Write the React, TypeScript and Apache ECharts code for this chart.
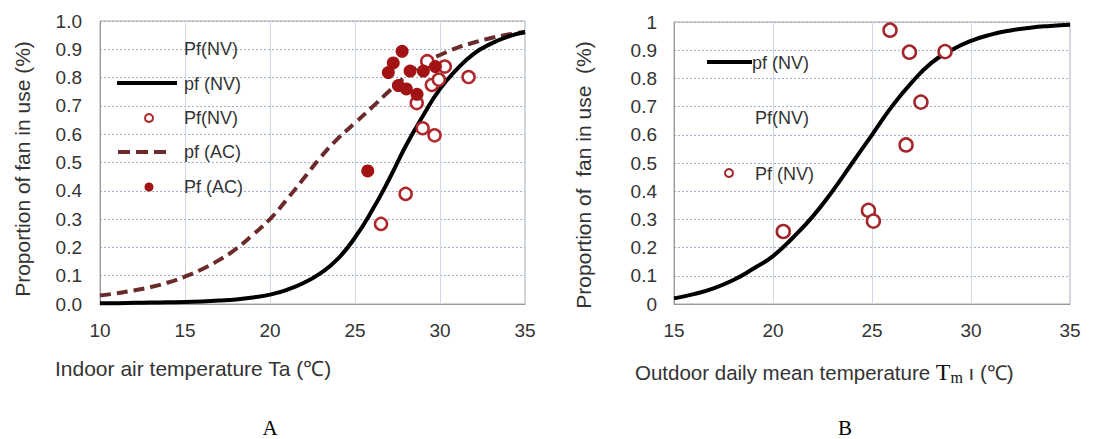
import React, { useEffect, useRef } from "react";
import * as echarts from "echarts";

// ---- Chart A (indoor air temperature) ----
const aCurveX = [10, 11, 12, 13, 14, 15, 16, 17, 18, 19, 20, 21, 22, 23, 24, 25, 26, 27, 28, 29, 30, 31, 32, 33, 34, 35];
const aCurveNV = [0.003, 0.003, 0.004, 0.005, 0.006, 0.007, 0.009, 0.012, 0.016, 0.023, 0.033, 0.05, 0.075, 0.11, 0.16, 0.235, 0.33, 0.44, 0.56, 0.665, 0.76, 0.83, 0.885, 0.92, 0.945, 0.96];
const aCurveAC = [0.03, 0.038, 0.048, 0.06, 0.076, 0.097, 0.123, 0.155, 0.195, 0.245, 0.3, 0.37, 0.445, 0.52, 0.585, 0.64, 0.695, 0.752, 0.805, 0.85, 0.88, 0.905, 0.924, 0.94, 0.952, 0.962];
const aObsNVx = [26.53, 27.98, 28.98, 29.68, 28.63, 29.52, 29.93, 29.25, 30.28, 31.68];
const aObsNVy = [0.283, 0.389, 0.621, 0.596, 0.71, 0.774, 0.793, 0.858, 0.839, 0.802];
const aObsACx = [25.75, 26.96, 27.25, 27.77, 28.24, 29.02, 29.73, 27.55, 28.02, 28.65];
const aObsACy = [0.47, 0.818, 0.852, 0.893, 0.823, 0.823, 0.839, 0.772, 0.76, 0.741];
const aXTicks = [10, 15, 20, 25, 30, 35];

// ---- Chart B (outdoor daily mean temperature) ----
const bCurveX = [15, 16, 17, 18, 19, 20, 21, 22, 23, 24, 25, 26, 27, 28, 29, 30, 31, 32, 33, 34, 35];
const bCurveNV = [0.02, 0.035, 0.055, 0.085, 0.125, 0.17, 0.235, 0.31, 0.4, 0.5, 0.6, 0.7, 0.785, 0.855, 0.9, 0.933, 0.955, 0.97, 0.98, 0.986, 0.99];
const bObsNVx = [25.91, 26.89, 28.69, 27.47, 26.72, 24.82, 25.07, 20.52];
const bObsNVy = [0.971, 0.893, 0.895, 0.716, 0.564, 0.332, 0.294, 0.257];
const bXTicks = [15, 20, 25, 30, 35];

const SANS = "'Liberation Sans', Arial, Helvetica, sans-serif";
const SERIF = "'Liberation Serif', 'Times New Roman', serif";
const TXT = "#333333";
const BLACK = "#000000";
const DASH = "#6b2b2b";
const FILLED = "#a31313";
const OPEN = "#b0262a";

const pairs = (xs: number[], ys: number[]) => xs.map((x, i) => [x, ys[i]]);

function legendText(x: number, y: number, text: string) {
  return {
    type: "text",
    x,
    y,
    style: { text, fill: TXT, font: `18px ${SANS}`, textAlign: "left", textVerticalAlign: "middle" },
    z: 100,
  };
}

export default function App() {
  const ref = useRef<HTMLDivElement>(null);
  useEffect(() => {
    if (!ref.current) return;
    const chart = echarts.init(ref.current, undefined, { renderer: "svg" });

    const xAxisCommon = {
      type: "value",
      interval: 5,
      axisLine: { show: true, lineStyle: { color: "#9a9a9a", width: 1 } },
      axisTick: { show: false },
      axisLabel: { color: TXT, fontSize: 19, fontFamily: SANS, margin: 17 },
      splitLine: { show: true, lineStyle: { color: "#cfd8e4", width: 1, type: "solid" } },
    };
    const yAxisCommon = {
      type: "value",
      min: 0,
      max: 1,
      interval: 0.1,
      axisLine: { show: true, lineStyle: { color: "#9a9a9a", width: 1 } },
      axisTick: { show: false },
      splitLine: { show: true, lineStyle: { color: "#9eb0c8", width: 1, type: [2, 2] } },
    };

    const option: any = {
      animation: false,
      backgroundColor: "#ffffff",
      grid: [
        { left: 100, top: 21, width: 425, height: 283, show: true, borderColor: "#a8a8a8", borderWidth: 1, containLabel: false },
        { left: 674, top: 22, width: 396, height: 282, show: true, borderColor: "#a8a8a8", borderWidth: 1, containLabel: false },
      ],
      xAxis: [
        { ...xAxisCommon, gridIndex: 0, min: aXTicks[0], max: aXTicks[aXTicks.length - 1] },
        { ...xAxisCommon, gridIndex: 1, min: bXTicks[0], max: bXTicks[bXTicks.length - 1] },
      ],
      yAxis: [
        {
          ...yAxisCommon,
          gridIndex: 0,
          axisLabel: { color: TXT, fontSize: 19, fontFamily: SANS, margin: 18, formatter: (v: number) => v.toFixed(1) },
        },
        {
          ...yAxisCommon,
          gridIndex: 1,
          axisLabel: { color: TXT, fontSize: 19, fontFamily: SANS, margin: 17, formatter: (v: number) => String(Math.round(v * 10) / 10) },
        },
      ],
      series: [
        {
          name: "pf (AC)",
          type: "line",
          xAxisIndex: 0,
          yAxisIndex: 0,
          data: pairs(aCurveX, aCurveAC),
          smooth: true,
          showSymbol: false,
          lineStyle: { color: DASH, width: 4, type: [11, 6] },
          z: 2,
        },
        {
          name: "pf (NV)",
          type: "line",
          xAxisIndex: 0,
          yAxisIndex: 0,
          data: pairs(aCurveX, aCurveNV),
          smooth: true,
          showSymbol: false,
          lineStyle: { color: BLACK, width: 4 },
          z: 3,
        },
        {
          name: "Pf(NV)",
          type: "scatter",
          xAxisIndex: 0,
          yAxisIndex: 0,
          data: pairs(aObsNVx, aObsNVy),
          symbol: "circle",
          symbolSize: 12,
          itemStyle: { color: "#ffffff", borderColor: OPEN, borderWidth: 2.5, opacity: 1 },
          z: 4,
        },
        {
          name: "Pf (AC)",
          type: "scatter",
          xAxisIndex: 0,
          yAxisIndex: 0,
          data: pairs(aObsACx, aObsACy),
          symbol: "circle",
          symbolSize: 13,
          itemStyle: { color: FILLED, opacity: 1 },
          z: 5,
        },
        {
          name: "pf (NV) B",
          type: "line",
          xAxisIndex: 1,
          yAxisIndex: 1,
          data: pairs(bCurveX, bCurveNV),
          smooth: true,
          showSymbol: false,
          lineStyle: { color: BLACK, width: 4 },
          z: 3,
        },
        {
          name: "Pf (NV) B",
          type: "scatter",
          xAxisIndex: 1,
          yAxisIndex: 1,
          data: pairs(bObsNVx, bObsNVy),
          symbol: "circle",
          symbolSize: 13,
          itemStyle: { color: "#ffffff", borderColor: "#a3262a", borderWidth: 2.5, opacity: 1 },
          z: 4,
        },
      ],
      graphic: [
        // Chart A legend
        legendText(184, 49, "Pf(NV)"),
        { type: "line", shape: { x1: 117, y1: 83, x2: 177, y2: 83 }, style: { stroke: BLACK, lineWidth: 4 }, z: 100 },
        legendText(184, 84, "pf (NV)"),
        { type: "circle", shape: { cx: 149, cy: 118, r: 4 }, style: { fill: "#ffffff", stroke: OPEN, lineWidth: 2 }, z: 100 },
        legendText(184, 118, "Pf(NV)"),
        { type: "line", shape: { x1: 118, y1: 152, x2: 172, y2: 152 }, style: { stroke: DASH, lineWidth: 4, lineDash: [12, 6] }, z: 100 },
        legendText(184, 152, "pf (AC)"),
        { type: "circle", shape: { cx: 149, cy: 187, r: 4.5 }, style: { fill: FILLED }, z: 100 },
        legendText(184, 187, "Pf (AC)"),
        // Chart B legend
        { type: "line", shape: { x1: 707, y1: 62, x2: 752, y2: 62 }, style: { stroke: BLACK, lineWidth: 4 }, z: 100 },
        legendText(752, 63, "pf (NV)"),
        legendText(755, 118, "Pf(NV)"),
        { type: "circle", shape: { cx: 729, cy: 173, r: 4 }, style: { fill: "#ffffff", stroke: "#a3262a", lineWidth: 2 }, z: 100 },
        legendText(755, 174, "Pf (NV)"),
        // Axis titles
        {
          type: "text",
          x: 22,
          y: 169,
          rotation: Math.PI / 2,
          style: { text: "Proportion of fan in use (%)", fill: TXT, font: `21px ${SANS}`, textAlign: "center", textVerticalAlign: "middle" },
        },
        {
          type: "text",
          x: 583,
          y: 175,
          rotation: Math.PI / 2,
          style: { text: "Proportion of  fan in use  (%)", fill: TXT, font: `21px ${SANS}`, textAlign: "center", textVerticalAlign: "middle" },
        },
        {
          type: "text",
          x: 55,
          y: 368,
          style: { text: "Indoor air temperature Ta (℃)", fill: TXT, font: `21px ${SANS}`, textAlign: "left", textVerticalAlign: "middle" },
        },
        {
          type: "text",
          x: 635,
          y: 372,
          style: {
            text: "{a|Outdoor daily mean temperature }{t|T}{m|m}{a| ı (℃)}",
            textAlign: "left",
            textVerticalAlign: "middle",
            rich: {
              a: { fill: TXT, fontSize: 20.5, fontFamily: SANS, lineHeight: 26, verticalAlign: "middle" },
              t: { fill: "#111", fontSize: 24, fontFamily: SERIF, lineHeight: 26, verticalAlign: "middle" },
              m: { fill: "#111", fontSize: 16, fontFamily: SERIF, lineHeight: 26, verticalAlign: "bottom", padding: [12, 0, 0, 0] },
            },
          },
        },
        {
          type: "text",
          x: 270,
          y: 428,
          style: { text: "A", fill: "#000", font: `21px ${SERIF}`, textAlign: "center", textVerticalAlign: "middle" },
        },
        {
          type: "text",
          x: 845,
          y: 428,
          style: { text: "B", fill: "#000", font: `21px ${SERIF}`, textAlign: "center", textVerticalAlign: "middle" },
        },
      ],
    };

    chart.setOption(option);
    return () => chart.dispose();
  }, []);

  return (
    <div
      ref={ref}
      style={{ position: "absolute", left: 0, top: 0, width: 1106, height: 439, background: "#fff" }}
    />
  );
}
